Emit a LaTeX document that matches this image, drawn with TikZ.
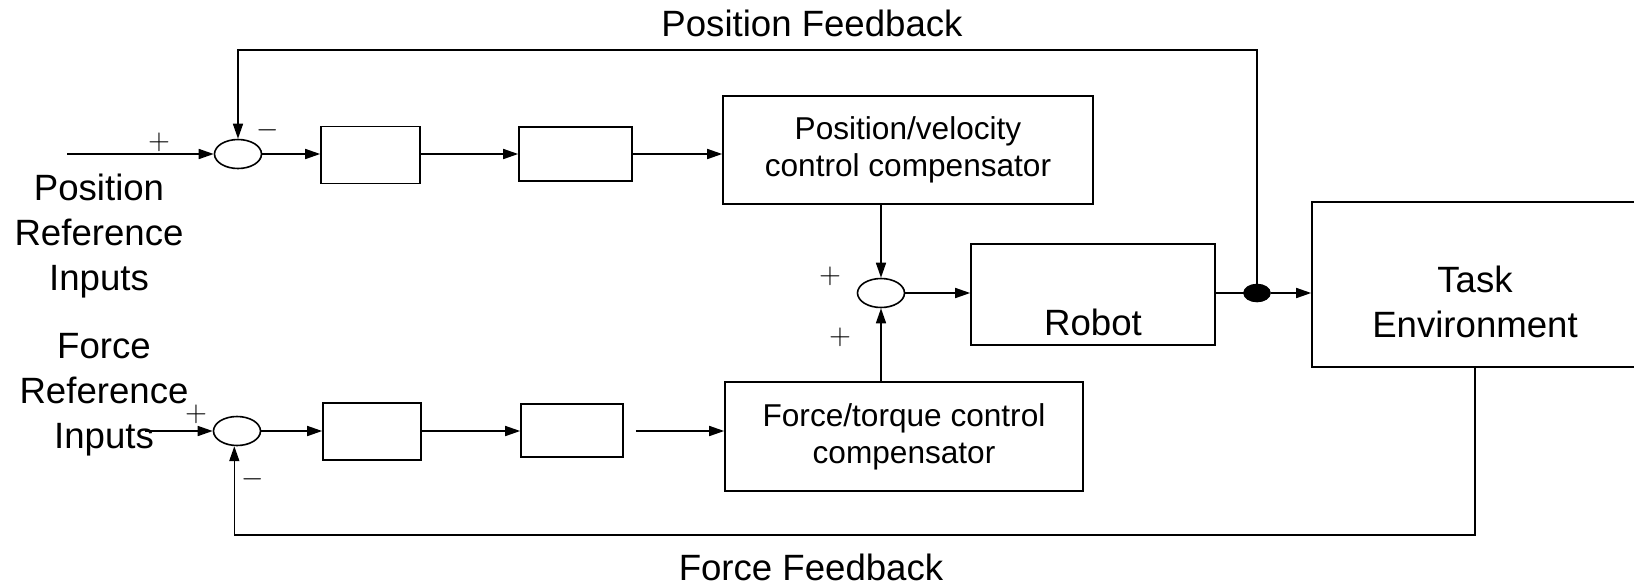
\documentclass[tikz,border=0pt]{standalone}
\usepackage{fontspec}
\setmainfont{Liberation Sans}
\usetikzlibrary{arrows.meta,shapes.geometric}
\begin{document}
\begin{tikzpicture}[x=0.5pt,y=-0.5pt,line width=0.8pt,
    bloc/.style={draw,rectangle,inner sep=0pt},
    somme/.style={draw,ellipse,inner sep=0pt,minimum width=23.5pt,minimum height=14.5pt},
    fleche/.style={-{Triangle[length=7.5pt,width=5pt]}},
    grand/.style={font=\fontsize{18.3}{22.5}\selectfont,align=center,inner sep=0pt},
    petit/.style={font=\fontsize{15.8}{18.5}\selectfont,align=center},
    signe/.style={font=\fontsize{14}{16}\selectfont,inner sep=0pt}]

\useasboundingbox (0,0) rectangle (1634,585);

%hauteur des rangées
\def \yP {154}
\def \yR {293}
\def \yF {431}

% boucle en position (haut)
\coordinate (inP) at (67,\yP);
\node[somme] (sumP) at (238,\yP) {};
\node[bloc,minimum width=49.5pt,minimum height=28.5pt] (P1) at (370.5,155) {};
\node[bloc,minimum width=56.5pt,minimum height=27pt] (P2) at (575.5,154) {};
\node[bloc,petit,minimum width=185pt,minimum height=54pt] (pv) at (908,150) {Position/velocity\\control compensator};
\node[grand] (tPR) at (99,236) {Position\\Reference\\Inputs};
\node[grand] (tPF) at (812,23) {Position Feedback};
\node[signe] (pP) at (159,142) {$+$};
\node[signe] (mP) at (268,130) {$-$};

% robot et environnement
\node[somme] (sumR) at (881,\yR) {};
\node[bloc,minimum width=122pt,minimum height=50.5pt,label={[grand,yshift=-13.75pt]center:Robot}] (robot) at (1093,294.5) {};
\node[bloc,minimum width=163pt,minimum height=82.5pt,label={[grand,yshift=-8.75pt]center:Task\\Environment}] (task) at (1475,284.5) {};
\node[somme,fill,minimum width=13pt,minimum height=8.5pt] (dot) at (1257,\yR) {};
\node[signe] (pR1) at (830,276) {$+$};
\node[signe] (pR2) at (840,337) {$+$};

% boucle en effort (bas)
\coordinate (inF) at (145,\yF);
\node[somme] (sumF) at (237,\yF) {};
\node[bloc,minimum width=49pt,minimum height=28.5pt] (F1) at (372,431.5) {};
\node[bloc,minimum width=51pt,minimum height=26.5pt] (F2) at (572,430.5) {};
\node[bloc,petit,minimum width=179pt,minimum height=54.5pt] (fc) at (904,436.5) {Force/torque control\\compensator};
\node[grand] (tFR) at (104,394.5) {Force\\Reference\\Inputs};
\node[grand] (tFF) at (811,567) {Force Feedback};
\node[signe] (pF) at (196,414) {$+$};
\node[signe] (mF) at (253,479) {$-$};

%retours
\coordinate (fbP) at (1257,50);
\coordinate (fbF) at (1475,535);

% liaisons haut
\draw[fleche] (inP) -- (sumP.west);
\draw[fleche] (sumP.east) -- (sumP.east -| P1.west);
\draw[fleche] (P1.east |- sumP) -- (P2.west |- sumP);
\draw[fleche] (P2.east |- sumP) -- (pv.west |- sumP);
\draw[fleche] (dot.center) -- (fbP) -| (sumP.north);

% liaisons milieu
\draw[fleche] (pv.south -| sumR) -- (sumR.north);
\draw[fleche] (fc.north -| sumR) -- (sumR.south);
\draw[fleche] (sumR.east) -- (robot.west |- sumR);
\draw (robot.east |- dot) -- (dot.center);
\draw[fleche] (dot.east) -- (task.west |- dot);

% liaisons bas
\draw[fleche] (inF) -- (sumF.west);
\draw[fleche] (sumF.east) -- (F1.west |- sumF);
\draw[fleche] (F1.east |- sumF) -- (F2.west |- sumF);
\draw[fleche] ([xshift=6pt]F2.east |- sumF) -- (fc.west |- sumF);
\draw[fleche] (task.south) -- (fbF) -| (sumF.260);

\end{tikzpicture}
\end{document}
